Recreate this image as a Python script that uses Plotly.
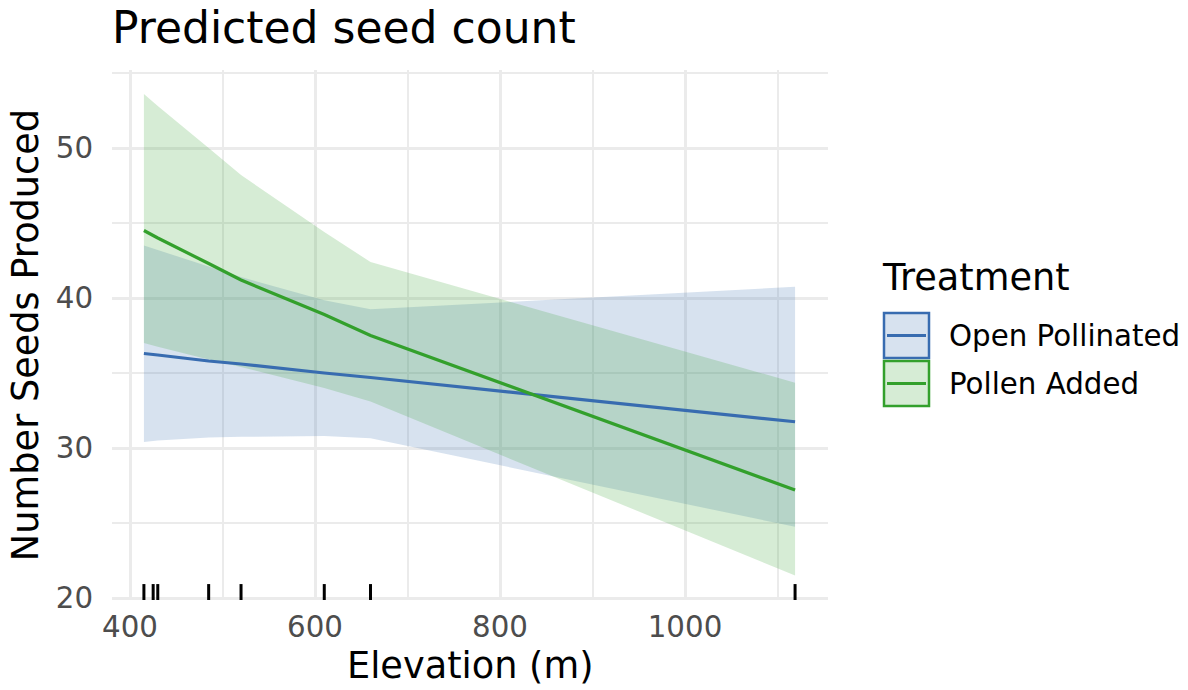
import plotly.graph_objects as go

# ---------------- data ----------------
elevation = [415, 425, 430, 485, 520, 610, 660, 1119]

open_fit   = [36.3, 36.2, 36.2, 35.8, 35.6, 35.0, 34.7, 31.75]
open_lower = [30.4, 30.45, 30.5, 30.7, 30.75, 30.8, 30.65, 24.75]
open_upper = [43.5, 43.3, 43.2, 42.1, 41.4, 39.85, 39.25, 40.75]

added_fit   = [44.5, 44.2, 44.0, 42.3, 41.2, 38.9, 37.5, 27.2]
added_lower = [37.0, 36.8, 36.75, 35.9, 35.4, 34.0, 33.1, 21.5]
added_upper = [53.6, 53.1, 52.8, 50.0, 48.2, 44.4, 42.4, 34.35]

rug_elevation = [415, 425, 430, 485, 520, 610, 660, 1119]

treatments = ["Open Pollinated", "Pollen Added"]
x_ticks = [400, 600, 800, 1000]
y_ticks = [20, 30, 40, 50]

# ---------------- style ----------------
FONT = "DejaVu Sans"
BLUE = "#386CB0"
GREEN = "#33A02C"
BLUE_FILL = "rgba(56,108,176,0.2)"
GREEN_FILL = "rgba(51,160,44,0.2)"
GRID = "#EBEBEB"

W, H = 1188, 690
PL, PR, PT, PB = 112, 828, 70, 600
XR = [380.5, 1154.6]
YR = [19.87, 55.2]


def px(xpix):
    return (xpix - PL) / (PR - PL)


def py(ypix):
    return (PB - ypix) / (PB - PT)


fig = go.Figure()

# ribbons
for lo, hi, fc in [(open_lower, open_upper, BLUE_FILL), (added_lower, added_upper, GREEN_FILL)]:
    fig.add_trace(go.Scatter(x=elevation, y=lo, mode="lines", line=dict(width=0),
                             showlegend=False, hoverinfo="skip"))
    fig.add_trace(go.Scatter(x=elevation, y=hi, mode="lines", line=dict(width=0),
                             fill="tonexty", fillcolor=fc, showlegend=False, hoverinfo="skip"))

# fitted lines
fig.add_trace(go.Scatter(x=elevation, y=open_fit, mode="lines", name=treatments[0],
                         line=dict(color=BLUE, width=3.2), showlegend=False))
fig.add_trace(go.Scatter(x=elevation, y=added_fit, mode="lines", name=treatments[1],
                         line=dict(color=GREEN, width=3.2), showlegend=False))

# rug
fig.add_trace(go.Scatter(x=rug_elevation, y=[0.015] * len(rug_elevation), yaxis="y2",
                         mode="markers",
                         marker=dict(symbol="line-ns", size=11.4,
                                     line=dict(color="black", width=3)),
                         showlegend=False, hoverinfo="skip"))

fig.update_layout(
    width=W, height=H,
    margin=dict(l=PL, r=W - PR, t=PT, b=H - PB),
    paper_bgcolor="white", plot_bgcolor="white",
    font=dict(family=FONT, color="black"),
    title=dict(text="Predicted seed count", font=dict(family=FONT, size=44, color="black"),
               xref="paper", x=0, xanchor="left",
               yref="container", y=1 - 28 / H, yanchor="middle"),
    xaxis=dict(range=XR, tickvals=x_ticks, showgrid=True, gridcolor=GRID, gridwidth=2.8,
               zeroline=False, showline=False, automargin=False,
               ticks="outside", ticklen=1, tickcolor="rgba(0,0,0,0)",
               tickfont=dict(family=FONT, size=29.3, color="#4D4D4D"),
               minor=dict(dtick=100, tick0=0, showgrid=True, gridcolor=GRID, gridwidth=1.6)),
    yaxis=dict(range=YR, tickvals=y_ticks, showgrid=True, gridcolor=GRID, gridwidth=2.8,
               zeroline=False, showline=False, automargin=False,
               ticks="outside", ticklen=12, tickcolor="rgba(0,0,0,0)",
               tickfont=dict(family=FONT, size=29.3, color="#4D4D4D"),
               minor=dict(dtick=10, tick0=5, showgrid=True, gridcolor=GRID, gridwidth=1.6),
               title=dict(text="Number Seeds Produced",
                          font=dict(family=FONT, size=36.7, color="black"), standoff=6)),
    yaxis2=dict(range=[0, 1], overlaying="y", visible=False, fixedrange=True),
)

# x axis title
fig.add_annotation(text="Elevation (m)", xref="paper", yref="paper", x=0.5, y=py(665),
                   xanchor="center", yanchor="middle", showarrow=False,
                   font=dict(family=FONT, size=36.7, color="black"))

# manual legend (ggplot-style key boxes)
legend_items = [(treatments[0], BLUE, BLUE_FILL, 313, 358),
                (treatments[1], GREEN, GREEN_FILL, 361, 406)]
for label, col, fc, top, bot in legend_items:
    fig.add_shape(type="rect", xref="paper", yref="paper",
                  x0=px(884), x1=px(929), y0=py(bot), y1=py(top),
                  fillcolor=fc, line=dict(color=col, width=2.5), layer="above")
    mid = (top + bot) / 2
    fig.add_shape(type="line", xref="paper", yref="paper",
                  x0=px(887), x1=px(926), y0=py(mid), y1=py(mid),
                  line=dict(color=col, width=3.2), layer="above")
    fig.add_annotation(text=label, xref="paper", yref="paper", x=px(947), y=py(mid),
                       xanchor="left", yanchor="middle", showarrow=False,
                       font=dict(family=FONT, size=29.3, color="black"))

fig.add_annotation(text="Treatment", xref="paper", yref="paper", x=px(880), y=py(277),
                   xanchor="left", yanchor="middle", showarrow=False,
                   font=dict(family=FONT, size=36.7, color="black"))

fig.write_html("out.html")
